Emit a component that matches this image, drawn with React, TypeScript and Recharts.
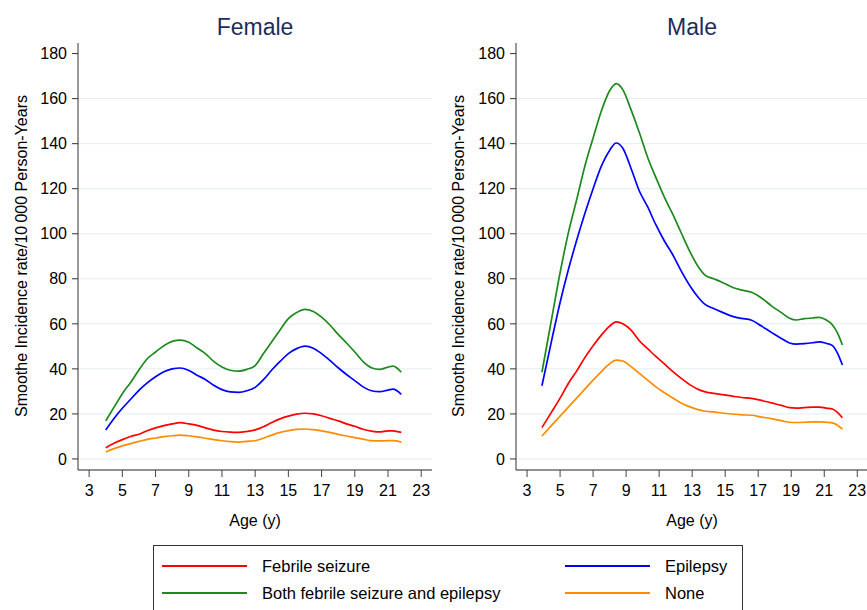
import React from "react";
import { LineChart, Line, XAxis, YAxis, CartesianGrid } from "recharts";

// ---- Female data ----
const femaleAges = [4, 4.5, 5, 5.5, 6, 6.5, 7, 7.5, 8, 8.5, 9, 9.5, 10, 10.5, 11, 11.5, 12, 12.5, 13, 13.5, 14, 14.5, 15, 15.5, 16, 16.5, 17, 17.5, 18, 18.5, 19, 19.5, 20, 20.5, 21, 21.3, 21.8];
const femaleFebrile = [5, 7, 8.6, 10, 11, 12.5, 13.8, 14.8, 15.6, 16.1, 15.6, 14.9, 13.8, 12.8, 12.2, 11.9, 11.8, 12.2, 12.9, 14.3, 16.2, 17.8, 19, 19.9, 20.3, 20, 19.2, 18, 16.9, 15.6, 14.5, 13.2, 12.4, 12, 12.5, 12.5, 11.8];
const femaleBoth = [16.9, 23, 29, 34, 39.5, 44.5, 47.5, 50.3, 52.2, 52.8, 51.8, 49.3, 46.8, 43.3, 40.8, 39.4, 39, 39.8, 41.5, 46.8, 52, 57.3, 62.3, 65, 66.4, 65.5, 63, 59.5, 55.3, 51.5, 47.5, 43.2, 40.5, 39.8, 40.8, 41.2, 38.5];
const femaleEpilepsy = [12.9, 18, 22.5, 26.5, 30.5, 33.8, 36.5, 38.7, 40, 40.4, 39.3, 37.2, 35.3, 32.7, 30.8, 29.8, 29.6, 30.3, 31.8, 35.2, 39.5, 43.3, 46.8, 49, 50.1, 49.2, 46.8, 43.8, 40.5, 37.5, 34.8, 32, 30.3, 29.9, 30.6, 31, 28.7];
const femaleNone = [3.1, 4.6, 5.8, 6.8, 7.8, 8.7, 9.3, 9.9, 10.3, 10.6, 10.3, 9.8, 9.2, 8.6, 8.1, 7.7, 7.5, 7.8, 8.1, 9.2, 10.6, 11.8, 12.6, 13.1, 13.3, 13, 12.5, 11.8, 10.9, 10.2, 9.5, 8.8, 8.1, 8, 8.1, 8.1, 7.5];

// ---- Male data ----
const maleAges = [3.9, 4.5, 5, 5.5, 6, 6.5, 7, 7.5, 8, 8.4, 8.8, 9.3, 9.8, 10.3, 10.8, 11.3, 11.8, 12.3, 12.9, 13.4, 13.8, 14.3, 14.8, 15.5, 16, 16.6, 17.2, 17.8, 18.4, 18.9, 19.3, 19.8, 20.3, 20.7, 21.1, 21.5, 21.8, 22.1];
const maleFebrile = [13.9, 21, 27, 33.5, 39, 45, 50.3, 55, 59, 60.9, 60, 57.2, 52.5, 49, 45.5, 42.3, 39, 36, 32.8, 30.8, 29.8, 29.1, 28.6, 27.8, 27.3, 26.9, 26, 24.9, 23.8, 22.8, 22.6, 22.8, 23, 23, 22.6, 22.2, 20.7, 18.3];
const maleBoth = [38.5, 62.7, 82.7, 100.4, 115, 130, 142.5, 154.5, 163.5, 166.7, 164, 155, 145, 134, 125, 116.5, 109, 101, 91.5, 85, 81.5, 80, 78.5, 76, 75, 74, 71.5, 68, 65, 62.5, 61.7, 62.3, 62.6, 62.9, 61.8, 59.5, 56, 50.6];
const maleEpilepsy = [32.5, 53, 69.5, 84, 97, 109, 120, 130, 137, 140.3, 138, 129, 119, 112, 104, 97, 91, 84, 76.5, 71.5, 68.5, 66.8, 65.2, 63.2, 62.4, 61.6, 59, 56.2, 53.5, 51.5, 51, 51.2, 51.6, 52, 51.4, 50.3, 47, 41.7];
const maleNone = [10.2, 15, 19, 23, 27, 31, 35, 38.8, 42.3, 43.9, 43.5, 41, 38, 35, 32, 29.5, 27.2, 25, 23, 21.8, 21.2, 20.9, 20.4, 19.9, 19.6, 19.4, 18.6, 17.9, 17, 16.3, 16.2, 16.3, 16.5, 16.5, 16.3, 16, 15, 13.3];

const xTicks = [3, 5, 7, 9, 11, 13, 15, 17, 19, 21, 23];
const yTicks = [0, 20, 40, 60, 80, 100, 120, 140, 160, 180];
const gridValues = [0, 20, 40, 60, 80, 100, 120, 140, 160];

const seriesNames = ["Febrile seizure", "Epilepsy", "Both febrile seizure and epilepsy", "None"];
const COLORS = { fs: "#ff0000", epi: "#0000ff", both: "#1e8a1e", none: "#ff8c00" };

function buildRows(ages: number[], fs: number[], both: number[], epi: number[], none: number[]) {
  return ages.map((a, i) => ({ age: a, fs: fs[i], both: both[i], epi: epi[i], none: none[i] }));
}

const femaleRows = buildRows(femaleAges, femaleFebrile, femaleBoth, femaleEpilepsy, femaleNone);
const maleRows = buildRows(maleAges, maleFebrile, maleBoth, maleEpilepsy, maleNone);

const FONT = "'Liberation Sans', Arial, sans-serif";
const tickStyle = { fontSize: 16, fill: "#000", fontFamily: FONT };

function Panel({ rows, width }: { rows: any[]; width: number }) {
  return (
    <LineChart width={width} height={610} data={rows} margin={{ top: 43, left: 77, right: width === 440 ? 8 : 0, bottom: 139 }}>
      <CartesianGrid horizontal vertical={false} stroke="#e3eef1" strokeWidth={1} horizontalValues={gridValues} />
      <XAxis
        type="number"
        dataKey="age"
        domain={[2.33, 23.65]}
        ticks={xTicks}
        allowDataOverflow
        height={1}
        tickSize={7}
        tickMargin={8}
        tick={tickStyle}
        stroke="#222"
        axisLine={{ stroke: "#222" }}
        tickLine={{ stroke: "#444" }}
      />
      <YAxis
        type="number"
        domain={[-4.9, 184.7]}
        ticks={yTicks}
        allowDataOverflow
        width={1}
        tickSize={6}
        tickMargin={5}
        tick={tickStyle}
        axisLine={{ stroke: "#333" }}
        tickLine={{ stroke: "#333" }}
      />
      <Line dataKey="fs" stroke={COLORS.fs} strokeWidth={1.7} dot={false} type="monotone" isAnimationActive={false} />
      <Line dataKey="both" stroke={COLORS.both} strokeWidth={1.7} dot={false} type="monotone" isAnimationActive={false} />
      <Line dataKey="epi" stroke={COLORS.epi} strokeWidth={1.7} dot={false} type="monotone" isAnimationActive={false} />
      <Line dataKey="none" stroke={COLORS.none} strokeWidth={1.7} dot={false} type="monotone" isAnimationActive={false} />
    </LineChart>
  );
}

const titleStyle: React.CSSProperties = {
  position: "absolute",
  fontSize: 23,
  color: "#1c2d5a",
  fontFamily: FONT,
  transform: "translate(-50%, -50%)",
  whiteSpace: "nowrap",
};
const labelStyle: React.CSSProperties = {
  position: "absolute",
  fontSize: 16,
  color: "#000",
  fontFamily: FONT,
  whiteSpace: "nowrap",
};
const yLabel = "Smoothe Incidence rate/10\u2009000 Person-Years";

export default function App() {
  const legendItems = [
    { name: seriesNames[0], color: COLORS.fs, x: 162, y: 566 },
    { name: seriesNames[1], color: COLORS.epi, x: 565, y: 566 },
    { name: seriesNames[2], color: COLORS.both, x: 162, y: 593 },
    { name: seriesNames[3], color: COLORS.none, x: 565, y: 593 },
  ];
  return (
    <div style={{ position: "absolute", left: 0, top: 0, width: 867, height: 610, overflow: "hidden", background: "#fff" }}>
      <div style={{ position: "absolute", left: 0, top: 0 }}>
        <Panel rows={femaleRows} width={440} />
      </div>
      <div style={{ position: "absolute", left: 438, top: 0 }}>
        <Panel rows={maleRows} width={430} />
      </div>
      <div style={{ ...titleStyle, left: 255, top: 27 }}>Female</div>
      <div style={{ ...titleStyle, left: 692, top: 27 }}>Male</div>
      <div style={{ ...labelStyle, left: 255, top: 521, transform: "translate(-50%, -50%)" }}>Age (y)</div>
      <div style={{ ...labelStyle, left: 692, top: 521, transform: "translate(-50%, -50%)" }}>Age (y)</div>
      <div style={{ ...labelStyle, left: 22, top: 256, transform: "translate(-50%, -50%) rotate(-90deg)" }}>{yLabel}</div>
      <div style={{ ...labelStyle, left: 459, top: 256, transform: "translate(-50%, -50%) rotate(-90deg)" }}>{yLabel}</div>
      <svg style={{ position: "absolute", left: 0, top: 0 }} width={867} height={610}>
        <rect x={153.5} y={545.5} width={589} height={80} fill="none" stroke="#333" strokeWidth={1} />
        {legendItems.map((it) => (
          <g key={it.name}>
            <line x1={it.x} x2={it.x + 85} y1={it.y} y2={it.y} stroke={it.color} strokeWidth={2} />
            <text x={it.x + 100} y={it.y} dy="0.36em" fontSize={16.5} fontFamily={FONT} fill="#000">
              {it.name}
            </text>
          </g>
        ))}
      </svg>
    </div>
  );
}
